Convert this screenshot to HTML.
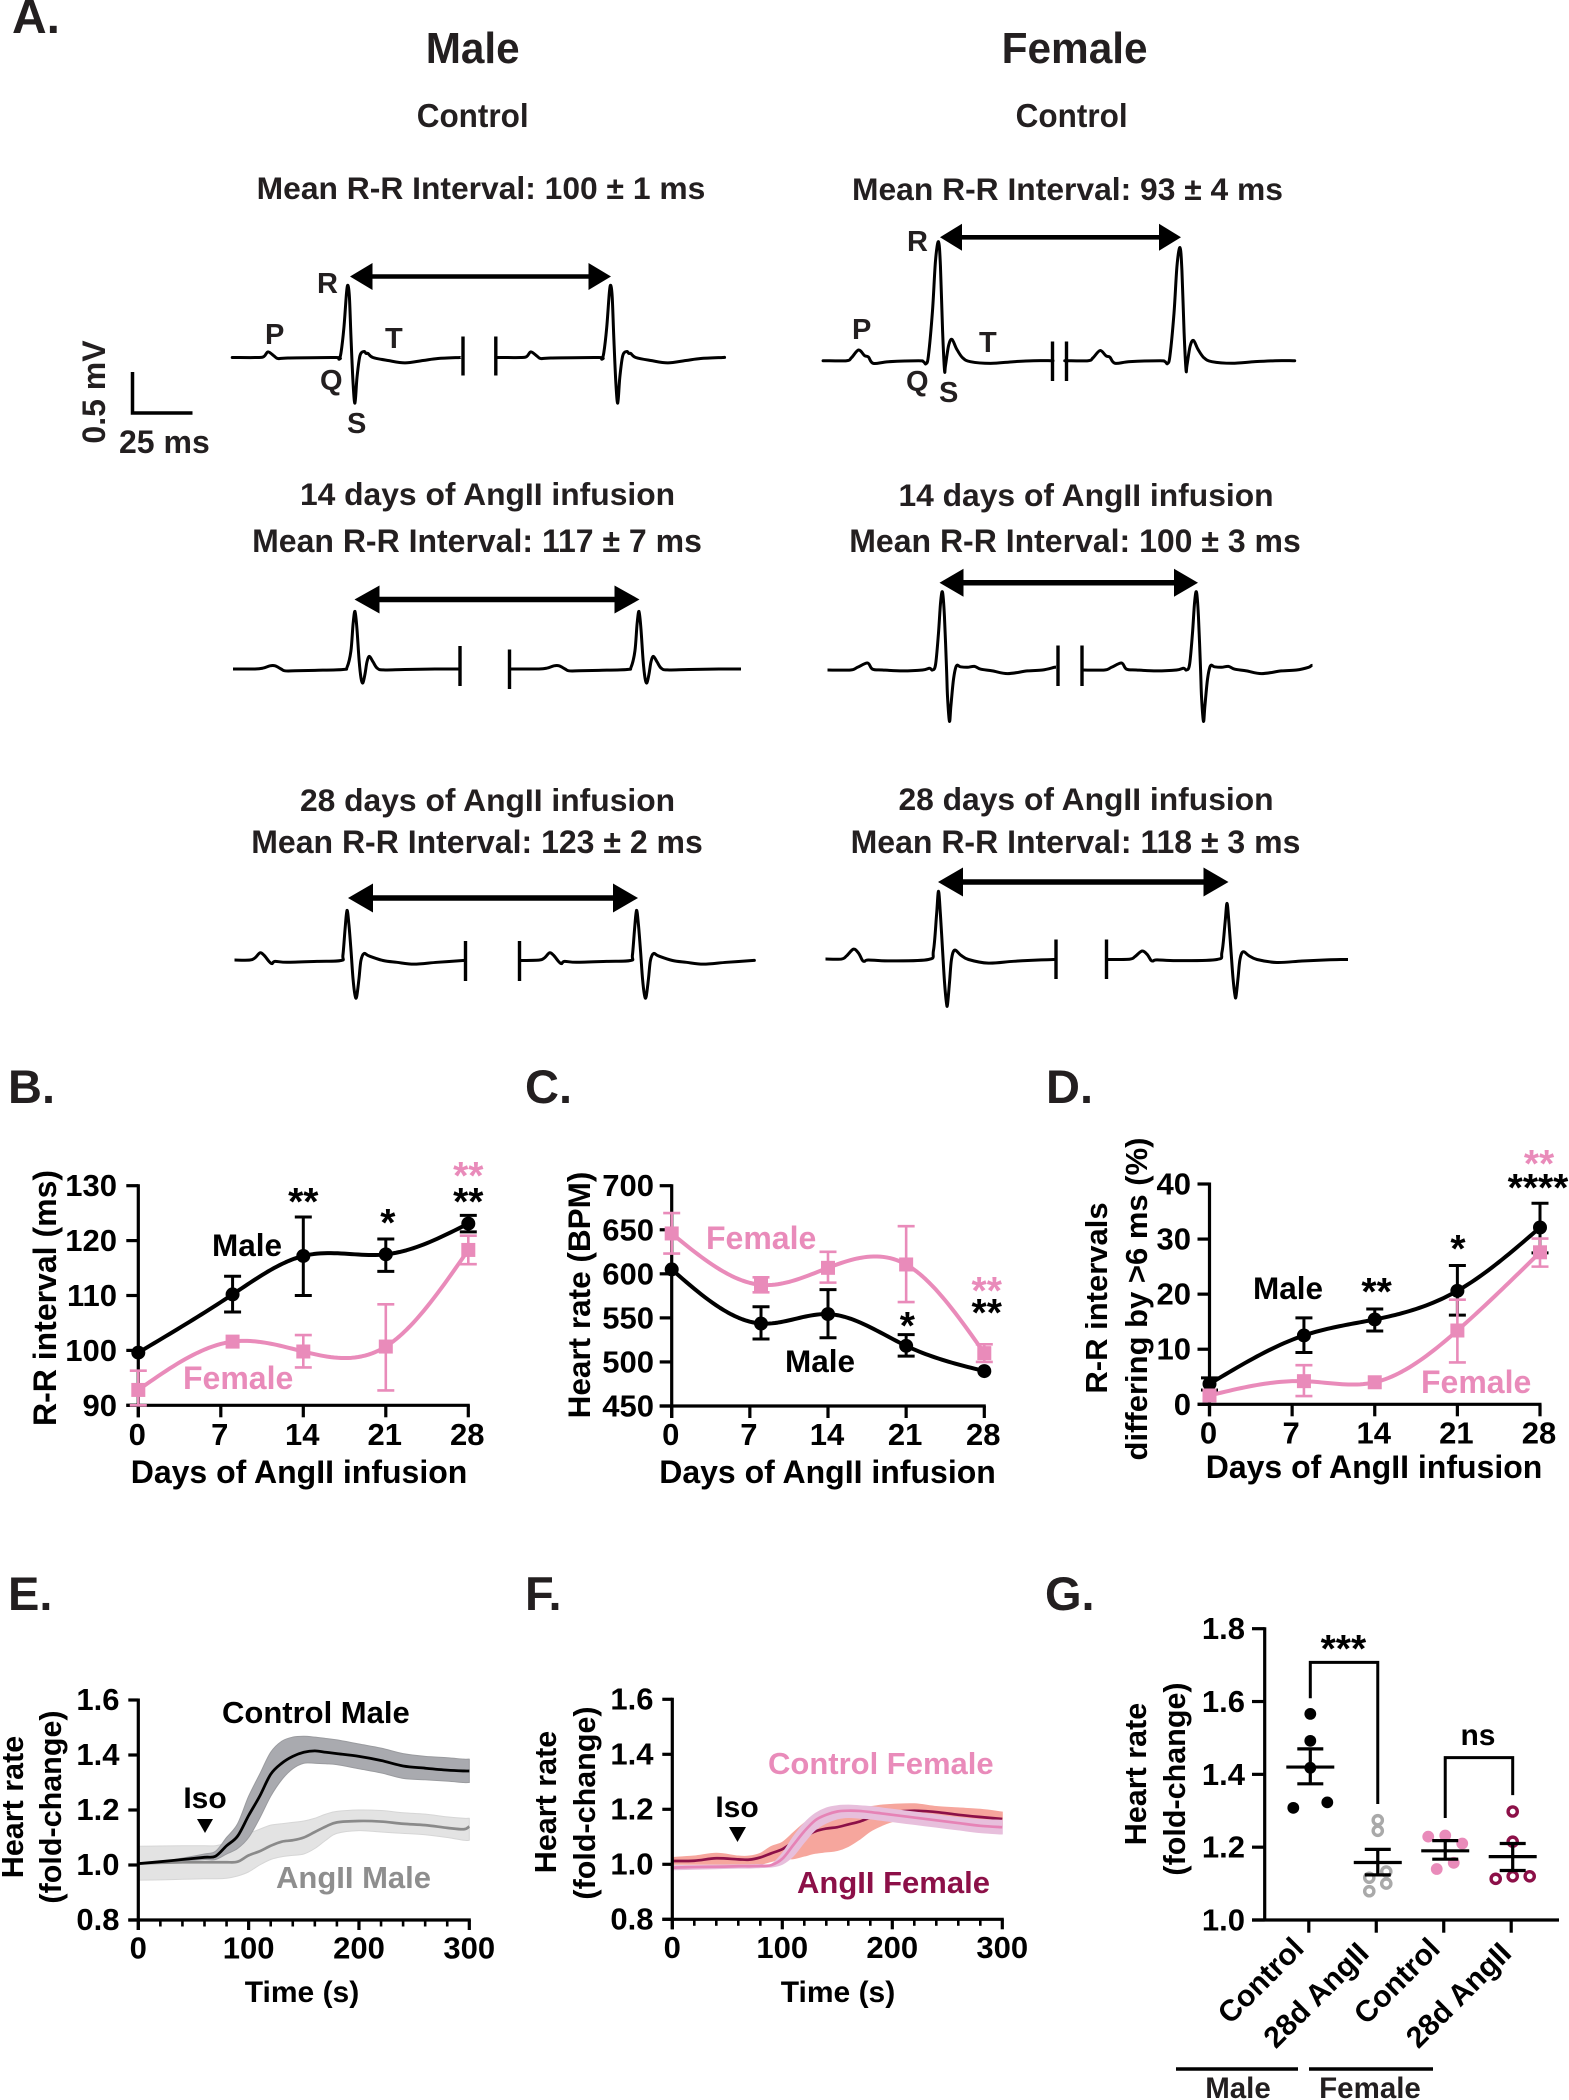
<!DOCTYPE html>
<html lang="en">
<head>
<meta charset="utf-8">
<title>ECG and heart rate panels</title>
<style>
html,body{margin:0;padding:0;background:#fff;}
svg{display:block;}
text{font-family:"Liberation Sans",Arial,sans-serif;font-weight:bold;}
.t{fill:#231f20;}
.mid{text-anchor:middle;}
</style>
</head>
<body>
<svg id="figure" xmlns="http://www.w3.org/2000/svg" width="1569" height="2100" viewBox="0 0 1569 2100">
<rect x="0" y="0" width="1569" height="2100" fill="#ffffff"/>

<!-- Panel letters -->
<text class="t" x="12" y="33" font-size="48">A.</text>
<text class="t" x="8" y="1103" font-size="47">B.</text>
<text class="t" x="525" y="1103" font-size="47">C.</text>
<text class="t" x="1046" y="1103" font-size="47">D.</text>
<text class="t" x="8" y="1610" font-size="47">E.</text>
<text class="t" x="525" y="1610" font-size="47">F.</text>
<text class="t" x="1045" y="1610" font-size="47">G.</text>

<!-- Panel A text -->
<text class="t mid" x="472.7" y="63" font-size="44" textLength="94" lengthAdjust="spacingAndGlyphs">Male</text>
<text class="t mid" x="1074.6" y="63" font-size="44" textLength="146" lengthAdjust="spacingAndGlyphs">Female</text>
<text class="t mid" x="472.7" y="127" font-size="33" textLength="112" lengthAdjust="spacingAndGlyphs">Control</text>
<text class="t mid" x="1071.6" y="127" font-size="33" textLength="112" lengthAdjust="spacingAndGlyphs">Control</text>
<text class="t mid" x="481" y="199" font-size="31.8">Mean R-R Interval: 100 ± 1 ms</text>
<text class="t mid" x="1067.5" y="200" font-size="31.8">Mean R-R Interval: 93 ± 4 ms</text>
<text class="t mid" x="487.5" y="505" font-size="31.8">14 days of AngII infusion</text>
<text class="t mid" x="477" y="552" font-size="32">Mean R-R Interval: 117 ± 7 ms</text>
<text class="t mid" x="487.5" y="811" font-size="31.8">28 days of AngII infusion</text>
<text class="t mid" x="477" y="853" font-size="32">Mean R-R Interval: 123 ± 2 ms</text>
<text class="t mid" x="1086" y="506" font-size="31.8">14 days of AngII infusion</text>
<text class="t mid" x="1075" y="552" font-size="32">Mean R-R Interval: 100 ± 3 ms</text>
<text class="t mid" x="1086" y="810" font-size="31.8">28 days of AngII infusion</text>
<text class="t mid" x="1075.5" y="853" font-size="32">Mean R-R Interval: 118 ± 3 ms</text>

<!-- ECG wave letters -->
<text class="t" x="317" y="293" font-size="29">R</text>
<text class="t" x="265" y="344" font-size="29">P</text>
<text class="t" x="385" y="348" font-size="29">T</text>
<text class="t" x="320" y="390" font-size="29">Q</text>
<text class="t" x="347" y="433" font-size="29">S</text>
<text class="t" x="907" y="251" font-size="29">R</text>
<text class="t" x="852" y="339" font-size="29">P</text>
<text class="t" x="979" y="352" font-size="29">T</text>
<text class="t" x="906" y="391" font-size="29">Q</text>
<text class="t" x="939" y="402" font-size="29">S</text>

<!-- ECG scale bar -->
<path d="M132.5 372 V413 H192.5" fill="none" stroke="#000" stroke-width="3.5"/>
<text class="t mid" transform="translate(105 392) rotate(-90)" font-size="32">0.5 mV</text>
<text class="t" x="119" y="453" font-size="32">25 ms</text>

<!-- Panel B text -->
<text class="mid" transform="translate(56 1298) rotate(-90)" font-size="32">R-R interval (ms)</text>
<text class="mid" x="299" y="1483" font-size="32">Days of AngII infusion</text>

<!-- Panel C text -->
<text class="mid" transform="translate(590 1295) rotate(-90)" font-size="31.5">Heart rate (BPM)</text>
<text class="mid" x="827.5" y="1483" font-size="32">Days of AngII infusion</text>

<!-- Panel D text -->
<text class="mid" transform="translate(1107 1298) rotate(-90)" font-size="31">R-R intervals</text>
<text class="mid" transform="translate(1147 1299) rotate(-90)" font-size="31">differing by &gt;6 ms (%)</text>
<text class="mid" x="1374" y="1478" font-size="32">Days of AngII infusion</text>

<!-- Panel E text -->
<text class="mid" transform="translate(23 1807) rotate(-90)" font-size="30.5">Heart rate</text>
<text class="mid" transform="translate(61 1807) rotate(-90)" font-size="30.5">(fold-change)</text>
<text class="mid" x="302" y="2002" font-size="30">Time (s)</text>

<!-- Panel F text -->
<text class="mid" transform="translate(556 1802) rotate(-90)" font-size="30.5">Heart rate</text>
<text class="mid" transform="translate(595 1803) rotate(-90)" font-size="30.5">(fold-change)</text>
<text class="mid" x="838" y="2002" font-size="30">Time (s)</text>

<!-- Panel G text -->
<text class="mid" transform="translate(1146 1774) rotate(-90)" font-size="30.5">Heart rate</text>
<text class="mid" transform="translate(1185 1779) rotate(-90)" font-size="30.5">(fold-change)</text>
<line x1="1176" x2="1298" y1="2069" y2="2069" stroke="#000" stroke-width="3.5"/>
<line x1="1309" x2="1433" y1="2069" y2="2069" stroke="#000" stroke-width="3.5"/>
<text class="t mid" x="1238" y="2098" font-size="29.5">Male</text>
<text class="t mid" x="1370" y="2098" font-size="29.5">Female</text>

<g id="plots"></g>

<!-- In-plot labels, drawn above the marks -->
<text x="212" y="1256" font-size="31.5" fill="#000">Male</text>
<text x="183" y="1389" font-size="32" fill="#e98bba">Female</text>
<text x="706" y="1249" font-size="32" fill="#e98bba">Female</text>
<text x="785" y="1372" font-size="31.5" fill="#000">Male</text>
<text x="1253" y="1299" font-size="31.5" fill="#000">Male</text>
<text x="1421" y="1393" font-size="32" fill="#e98bba">Female</text>
<text x="222" y="1723" font-size="31" fill="#000">Control Male</text>
<text x="276" y="1888" font-size="31" fill="#8e8e8e">AngII Male</text>
<text class="mid" x="205" y="1808" font-size="30" fill="#000">Iso</text>
<polygon points="197,1819 213,1819 205,1833" fill="#000"/>
<text x="768" y="1774" font-size="31" fill="#e98bba">Control Female</text>
<text x="797" y="1893" font-size="31" fill="#8c1048">AngII Female</text>
<text class="mid" x="737" y="1817" font-size="30" fill="#000">Iso</text>
<polygon points="729,1827 746,1827 737.5,1842" fill="#000"/>
</svg>

<script>
// ---------- Panel A: ECG beats (time from R peak in ms, amplitude in mV) ----------
const ecgMaleControlMs = [-47.5,-37.5,-35,-33.3,-30.8,-29.2,-25,-5,-3.8,-2.9,-1.7,-0.6,0,0.6,1.25,2.1,2.9,3.75,5,6.7,7.5,8.3,10.4,16.7,23.75,31.25,37.5,46.7];
const ecgMaleControlMv = [0,0,.012,.067,.018,-.012,-.006,0,-.018,.06,.357,.774,.857,.714,.238,-.298,-.543,-.238,.024,.071,.048,.048,0,-.036,-.064,-.036,-.012,0];
const ecgMale14Ms = [-51.25,-41.7,-38.3,-35.4,-33.3,-30.8,-29.2,-25,-16.7,-5,-3.3,-1.7,-.8,0,.8,1.7,2.5,3.3,4.2,5,6,7.5,9.2,11.7,20.8,33.3,42.9];
const ecgMale14Mv = [0,0,.012,.042,.042,0,-.024,-.024,-.018,-.006,.024,.238,.595,.762,.536,.119,-.119,-.183,-.06,.095,.167,.095,.012,-.012,-.006,0,0];
const ecgMale28Ms = [-47.5,-40.4,-38.3,-36.25,-34.6,-32.5,-31.25,-30,-25,-12.5,-2.5,-1.7,-.8,0,.8,1.7,2.5,3.3,4,5,5.8,7.1,9.2,15,20.8,27.9,37.5,48.3];
const ecgMale28Mv = [0,.006,.036,.101,.071,-.012,-.042,-.012,-.024,-.012,0,.071,.417,.663,.476,.119,-.238,-.452,-.482,-.238,0,.092,.06,0,-.024,-.048,-.024,0];
const ecgFemaleControlMs = [-47.3,-38.3,-36.25,-33.3,-30.8,-29.2,-27.1,-20.8,-8.3,-6.25,-5.2,-4.2,-2.5,-1.25,0,.8,1.7,2.5,2.9,4.2,5.6,7.5,10,13.3,21.7,31.25,39.6,47.1];
const ecgFemaleControlMv = [0,0,.036,.127,.06,.044,-.032,-.012,0,-.012,-.036,.06,.595,1.19,1.417,1.131,.357,-.111,-.06,.179,.254,.143,.036,-.012,-.032,-.012,0,0];
const ecgFemale14Ms = [-48.3,-38.3,-35.4,-31.25,-29.2,-25,-16.7,-8.3,-5.4,-4.2,-2.9,-1.7,-.8,0,.8,1.7,2.1,2.9,3.5,4.6,5.8,7.5,10.4,13.3,15.8,20.8,27.1,35.4,41.7,46.7,47.9];
const ecgFemale14Mv = [0,0,.036,.092,.012,0,-.012,0,.024,0,.071,.476,.893,1.03,.714,0,-.357,-.679,-.476,-.119,.055,.042,.036,.048,.012,-.012,-.048,-.012,0,.036,.06];
const ecgFemale28Ms = [-47.9,-40.4,-38.3,-35.4,-33.3,-31.7,-30.8,-29.2,-20.8,-4.2,-2.1,-.8,0,.8,1.7,2.5,3.3,3.75,4.6,5.4,6.7,9.2,12.5,20.8,31.25,41.7,47.9];
const ecgFemale28Mv = [0,.006,.048,.137,.083,-.012,-.024,-.006,-.018,0,.119,.595,.902,.595,.119,-.298,-.571,-.595,-.298,0,.124,.06,0,-.048,-.024,-.006,0];

// ---------- Panels B, C, D: values ----------
const dayTickLabels = ['0','7','14','21','28'];
const sampleDays = [0,8,14,21,28];

const bYTickLabels = ['90','100','110','120','130'];
const bMale = [99.6,110.2,117.2,117.5,123.1];
const bMaleHi = [99.6,113.5,124.3,120.3,124.6];
const bMaleLo = [99.6,107,110,114.4,121.6];
const bFemale = [92.8,101.6,99.8,100.7,118.3];
const bFemaleHi = [96.3,101.6,102.8,108.4,120.9];
const bFemaleLo = [90,101.6,96.9,92.7,115.7];

const cYTickLabels = ['450','500','550','600','650','700'];
const cMale = [605,543.6,554.3,518.3,489.6];
const cMaleHi = [605,562.6,582,531,489.6];
const cMaleLo = [605,526,527.4,506.6,489.6];
const cFemale = [645.8,587.5,606.8,610.6,510];
const cFemaleHi = [669,596,625,654,520];
const cFemaleLo = [623,579,590,568,500];

const dYTickLabels = ['0','10','20','30','40'];
const dMale = [3.7,12.5,15.4,20.6,32.1];
const dMaleHi = [4.8,15.7,17.3,25.2,36.5];
const dMaleLo = [2.6,9.4,13.3,16.2,27.5];
const dFemale = [1.6,4.2,4,13.4,27.6];
const dFemaleHi = [1.6,7.1,4,19,30.1];
const dFemaleLo = [1.6,1.5,4,7.6,25];

// ---------- Panels E, F: time courses ----------
const timeTickLabels = ['0','100','200','300'];
const timeMinorTicks = [20,40,60,80,120,140,160,180,220,240,260,280];
const foldTickLabels = ['0.8','1.0','1.2','1.4','1.6'];

const eTime = [0,20,40,60,70,80,90,100,110,120,130,140,150,160,170,180,200,220,240,260,280,295,300];
const eControl = [1.005,1.012,1.02,1.028,1.032,1.07,1.105,1.18,1.25,1.33,1.37,1.395,1.41,1.415,1.41,1.405,1.395,1.38,1.36,1.352,1.345,1.342,1.342];
const eControlHi = [1.005,1.012,1.025,1.04,1.05,1.10,1.15,1.25,1.33,1.41,1.45,1.465,1.468,1.465,1.46,1.455,1.44,1.425,1.405,1.395,1.39,1.385,1.385];
const eControlLo = [1.005,1.012,1.015,1.02,1.02,1.04,1.06,1.10,1.17,1.25,1.31,1.35,1.37,1.37,1.368,1.365,1.35,1.335,1.315,1.31,1.305,1.30,1.30];
const eAngii = [1.005,1.008,1.01,1.01,1.01,1.01,1.012,1.035,1.05,1.07,1.085,1.09,1.10,1.12,1.14,1.155,1.16,1.158,1.15,1.145,1.135,1.13,1.14];
const eAngiiHi = [1.068,1.069,1.07,1.07,1.07,1.08,1.10,1.115,1.13,1.145,1.15,1.155,1.16,1.17,1.185,1.195,1.20,1.198,1.19,1.185,1.175,1.17,1.17];
const eAngiiLo = [.945,.946,.948,.95,.95,.952,.96,.975,1.0,1.02,1.03,1.035,1.04,1.06,1.09,1.115,1.125,1.12,1.115,1.11,1.10,1.09,1.09];

const fTime = [0,20,40,60,70,80,90,100,110,120,130,140,150,160,170,180,190,200,220,240,260,280,300];
const fAngii = [1.012,1.013,1.022,1.018,1.017,1.025,1.04,1.055,1.08,1.10,1.12,1.13,1.135,1.145,1.155,1.17,1.18,1.19,1.195,1.19,1.18,1.172,1.165];
const fAngiiHi = [1.025,1.03,1.04,1.03,1.03,1.04,1.065,1.08,1.115,1.15,1.175,1.19,1.20,1.205,1.208,1.21,1.215,1.218,1.22,1.21,1.205,1.20,1.19];
const fAngiiLo = [1.0,1.0,1.0,1.0,1.0,1.0,1.01,1.02,1.02,1.03,1.04,1.045,1.05,1.065,1.09,1.12,1.14,1.155,1.17,1.175,1.16,1.15,1.14];
const fControl = [.988,.99,.991,.993,.993,.994,.997,1.02,1.07,1.12,1.16,1.18,1.192,1.195,1.194,1.19,1.185,1.18,1.17,1.16,1.15,1.14,1.135];
const fControlHi = [.995,.996,.997,.998,.998,.999,1.0,1.04,1.10,1.15,1.185,1.205,1.213,1.215,1.213,1.21,1.205,1.20,1.19,1.18,1.17,1.163,1.16];
const fControlLo = [.98,.982,.984,.986,.986,.988,.99,1.0,1.03,1.08,1.125,1.15,1.165,1.17,1.168,1.165,1.16,1.155,1.145,1.135,1.125,1.115,1.11];

// ---------- Panel G: individual animals ----------
const gCategories = ['Control','28d AngII','Control','28d AngII'];
const gYTickLabels = ['1.0','1.2','1.4','1.6','1.8'];
const gMaleControl = [1.566,1.492,1.418,1.308,1.323];
const gMaleControlJitter = [0,0,0,-1,1];
const gMaleAngii = [1.274,1.245,1.133,1.116,1.10,1.079];
const gMaleAngiiJitter = [0,0,.5,-.5,.5,-.5];
const gFemaleControl = [1.229,1.232,1.21,1.157,1.14];
const gFemaleControlJitter = [-1,0,1,.5,-.5];
const gFemaleAngii = [1.298,1.215,1.12,1.113,1.12];
const gFemaleAngiiJitter = [0,0,0,-1,1];
const gMeans = [1.42,1.158,1.19,1.174];
const gErrHi = [1.47,1.194,1.218,1.21];
const gErrLo = [1.374,1.124,1.167,1.136];

// ---------- Helpers ----------
const NS = 'http://www.w3.org/2000/svg';
const plots = document.getElementById('plots');
const PINK = '#e98bba';

function mk(tag, attrs, parent) {
  const el = document.createElementNS(NS, tag);
  for (const k in attrs) el.setAttribute(k, attrs[k]);
  (parent || plots).appendChild(el);
  return el;
}
function linear(d0, d1, r0, r1) {
  return function (v) { return r0 + (v - d0) * (r1 - r0) / (d1 - d0); };
}
function group(name) {
  const g = mk('g', {}, plots);
  
  
  return g;
}
function seg(g, x1, y1, x2, y2, color, w, name) {
  const l = mk('line', {x1: x1, y1: y1, x2: x2, y2: y2, stroke: color, 'stroke-width': w}, g);
  
  
  return l;
}
function label(g, str, x, y, size, anchor, name) {
  const t = mk('text', {x: x, y: y, 'font-size': size, 'text-anchor': anchor, fill: '#000'}, g);
  t.textContent = str;
  
  
  return t;
}
// Natural cubic spline through the means, sampled for a smooth path
function splinePath(xs, ys, sx, sy) {
  const n = xs.length, h = [], al = [0], l = [1], mu = [0], z = [0], c = new Array(n).fill(0), b = [], d = [];
  for (let i = 0; i < n - 1; i++) h.push(xs[i + 1] - xs[i]);
  for (let i = 1; i < n - 1; i++) al.push(3 / h[i] * (ys[i + 1] - ys[i]) - 3 / h[i - 1] * (ys[i] - ys[i - 1]));
  for (let i = 1; i < n - 1; i++) {
    l[i] = 2 * (xs[i + 1] - xs[i - 1]) - h[i - 1] * mu[i - 1];
    mu[i] = h[i] / l[i];
    z[i] = (al[i] - h[i - 1] * z[i - 1]) / l[i];
  }
  for (let j = n - 2; j >= 0; j--) {
    c[j] = z[j] - mu[j] * c[j + 1];
    b[j] = (ys[j + 1] - ys[j]) / h[j] - h[j] * (c[j + 1] + 2 * c[j]) / 3;
    d[j] = (c[j + 1] - c[j]) / (3 * h[j]);
  }
  let p = '';
  for (let j = 0; j < n - 1; j++) {
    for (let s = 0; s <= 24; s++) {
      const dx = h[j] * s / 24;
      const y = ys[j] + b[j] * dx + c[j] * dx * dx + d[j] * dx * dx * dx;
      p += (p ? 'L' : 'M') + sx(xs[j] + dx).toFixed(2) + ' ' + sy(y).toFixed(2);
    }
  }
  return p;
}
// Catmull-Rom smoothing through screen points; returns path commands without the initial move
function smoothSegments(pts) {
  let d = '';
  for (let i = 0; i < pts.length - 1; i++) {
    const p0 = pts[Math.max(i - 1, 0)], p1 = pts[i], p2 = pts[i + 1], p3 = pts[Math.min(i + 2, pts.length - 1)];
    const c1x = p1[0] + (p2[0] - p0[0]) / 6, c1y = p1[1] + (p2[1] - p0[1]) / 6;
    const c2x = p2[0] - (p3[0] - p1[0]) / 6, c2y = p2[1] - (p3[1] - p1[1]) / 6;
    d += 'C' + c1x.toFixed(2) + ' ' + c1y.toFixed(2) + ' ' + c2x.toFixed(2) + ' ' + c2y.toFixed(2) + ' ' + p2[0].toFixed(2) + ' ' + p2[1].toFixed(2);
  }
  return d;
}

// ---------- ECG drawing ----------
const ecgPxPerMs = 2.4;
const ecgPxPerMv = 84;
function drawBeat(g, ms, mv, rX, base, gain, fromX, toX) {
  const pts = [];
  for (let i = 0; i < ms.length; i++) {
    const x = rX + ms[i] * ecgPxPerMs;
    if (x >= fromX && x <= toX) pts.push([x, base - mv[i] * gain * ecgPxPerMv]);
  }
  pts.unshift([fromX, pts[0][1]]);
  pts.push([toX, pts[pts.length - 1][1]]);
  const line = mk('path', {d: 'M' + pts[0][0].toFixed(2) + ' ' + pts[0][1].toFixed(2) + smoothSegments(pts),
    fill: 'none', stroke: '#000', 'stroke-width': 3, 'stroke-linejoin': 'round'}, g);
  
  
}
function drawBreak(g, x, y1, y2) {
  const l = seg(g, x, y1, x, y2, '#000', 3.4, 'ecg-axis-break');
  return l;
}
function drawArrow(g, x1, x2, y, head, half, thick) {
  seg(g, x1 + head - 1, y, x2 - head + 1, y, '#000', thick, 'rr-arrow-shaft');
  const a = mk('polygon', {points: x1 + ',' + y + ' ' + (x1 + head) + ',' + (y - half) + ' ' + (x1 + head) + ',' + (y + half), fill: '#000'}, g);
  
  
  const b = mk('polygon', {points: x2 + ',' + y + ' ' + (x2 - head) + ',' + (y - half) + ' ' + (x2 - head) + ',' + (y + half), fill: '#000'}, g);
  
  
}

(function () {
  let g = group('ecg-male-control');
  drawBeat(g, ecgMaleControlMs, ecgMaleControlMv, 348, 357.5, 1, 234, 460.5);
  drawBeat(g, ecgMaleControlMs, ecgMaleControlMv, 610.8, 357.5, 1, 497.5, 723);
  drawBreak(g, 463, 336.5, 375.5); drawBreak(g, 495.8, 336.5, 375.5);
  drawArrow(g, 350, 611, 276.5, 22.5, 13.5, 4.6);

  g = group('ecg-female-control');
  drawBeat(g, ecgFemaleControlMs, ecgFemaleControlMv, 938.5, 360.7, 1, 824, 1052);
  drawBeat(g, ecgFemaleControlMs, ecgFemaleControlMv, 1180, 360.7, .95, 1066, 1294);
  drawBreak(g, 1052.5, 341.5, 381); drawBreak(g, 1066.5, 341.5, 381);
  drawArrow(g, 940, 1181, 237.3, 22, 13.5, 4.6);

  g = group('ecg-male-14-days');
  drawBeat(g, ecgMale14Ms, ecgMale14Mv, 355, 669, .9, 233, 458);
  drawBeat(g, ecgMale14Ms, ecgMale14Mv, 639, 669, .9, 510.5, 741);
  drawBreak(g, 460, 646, 686); drawBreak(g, 509.5, 649.5, 689);
  drawArrow(g, 354.5, 639.5, 599.5, 25, 14, 5.5);

  g = group('ecg-male-28-days');
  drawBeat(g, ecgMale28Ms, ecgMale28Mv, 347, 960.5, .9, 234.5, 464);
  drawBeat(g, ecgMale28Ms, ecgMale28Mv, 636.5, 960.5, .9, 520, 752.5);
  drawBreak(g, 465.5, 941, 981); drawBreak(g, 519.5, 941, 981);
  drawArrow(g, 348, 638, 898, 25, 14.5, 5.5);

  g = group('ecg-female-14-days');
  drawBeat(g, ecgFemale14Ms, ecgFemale14Mv, 942.5, 670, .9, 827.5, 1056);
  drawBeat(g, ecgFemale14Ms, ecgFemale14Mv, 1196.5, 670, .9, 1083, 1312.5);
  drawBreak(g, 1058, 645.5, 686); drawBreak(g, 1082, 645.5, 686);
  drawArrow(g, 939.5, 1198, 582.8, 24, 14, 5.5);

  g = group('ecg-female-28-days');
  drawBeat(g, ecgFemale28Ms, ecgFemale28Mv, 938.5, 959.5, .9, 825.5, 1055);
  drawBeat(g, ecgFemale28Ms, ecgFemale28Mv, 1227, 959.5, .74, 1107, 1348);
  drawBreak(g, 1056, 939.5, 979); drawBreak(g, 1106.5, 939.5, 979);
  drawArrow(g, 938, 1228.5, 882, 25, 14.5, 5.5);
})();

// ---------- Axes ----------
function drawDayAxes(name, sx, sy, yLabels, xLabels, yLabelX, xLabelY, tickLen) {
  const g = group(name + '-axes');
  const yVals = yLabels.map(Number), xVals = xLabels.map(Number);
  const yMin = Math.min.apply(null, yVals), yMax = Math.max.apply(null, yVals);
  const xMin = Math.min.apply(null, xVals), xMax = Math.max.apply(null, xVals);
  seg(g, sx(xMin), sy(yMax) - 1.5, sx(xMin), sy(yMin) + tickLen, '#000', 3.2, name + '-y-axis');
  seg(g, sx(xMin) - tickLen, sy(yMin), sx(xMax) + 1.5, sy(yMin), '#000', 3.2, name + '-x-axis');
  yLabels.forEach(function (lab) {
    const v = Number(lab);
    seg(g, sx(xMin) - tickLen, sy(v), sx(xMin), sy(v), '#000', 3.2, name + '-y-tick');
    label(g, lab, yLabelX, sy(v) + 10.5, 31, 'end', name + '-y-tick-label');
  });
  xLabels.forEach(function (lab) {
    const v = Number(lab);
    seg(g, sx(v), sy(yMin), sx(v), sy(yMin) + tickLen, '#000', 3.2, name + '-x-tick');
    label(g, lab, sx(v) - 1, xLabelY, 31, 'middle', name + '-x-tick-label');
  });
}

function drawSeries(name, sx, sy, days, means, hi, lo, color, square) {
  const g = group(name);
  const cap = 8.5;
  const errW = color === PINK ? 2.6 : 3;
  days.forEach(function (d, i) {
    const x = sx(d);
    if (hi[i] !== means[i]) {
      seg(g, x, sy(hi[i]), x, sy(means[i]), color, errW, name + '-error-bar-upper');
      seg(g, x - cap, sy(hi[i]), x + cap, sy(hi[i]), color, errW, name + '-error-cap');
    }
    if (lo[i] !== means[i]) {
      seg(g, x, sy(means[i]), x, sy(lo[i]), color, errW, name + '-error-bar-lower');
      seg(g, x - cap, sy(lo[i]), x + cap, sy(lo[i]), color, errW, name + '-error-cap');
    }
  });
  const p = mk('path', {d: splinePath(days, means, sx, sy), fill: 'none', stroke: color, 'stroke-width': 4, 'stroke-linejoin': 'round'}, g);
  
  
  days.forEach(function (d, i) {
    let m;
    if (square) {
      m = mk('rect', {x: sx(d) - 7, y: sy(means[i]) - 7, width: 14, height: 14, fill: color}, g);
    } else {
      m = mk('circle', {cx: sx(d), cy: sy(means[i]), r: 7, fill: color}, g);
    }
    
    
  });
}

function stars(str, x, centerY, color, name) {
  const t = mk('text', {x: x, y: centerY + 18, 'font-size': 39, 'text-anchor': 'middle', fill: color});
  t.textContent = str;
  
  
}

// Panel B
(function () {
  const sx = linear(0, 28, 138.3, 468.3), sy = linear(90, 130, 1405.3, 1185.7);
  drawDayAxes('b', sx, sy, bYTickLabels, dayTickLabels, 117, 1445, 12);
  drawSeries('b-male', sx, sy, sampleDays, bMale, bMaleHi, bMaleLo, '#000', false);
  drawSeries('b-female', sx, sy, sampleDays, bFemale, bFemaleHi, bFemaleLo, PINK, true);
  stars('**', sx(14), 1197, '#000', 'b-significance-day-14');
  stars('*', sx(21) + 2, 1218, '#000', 'b-significance-day-21');
  stars('**', sx(28), 1197, '#000', 'b-significance-day-28-male');
  stars('**', sx(28), 1171, PINK, 'b-significance-day-28-female');
})();

// Panel C
(function () {
  const sx = linear(0, 28, 671.7, 984.3), sy = linear(450, 700, 1406, 1185.7);
  drawDayAxes('c', sx, sy, cYTickLabels, dayTickLabels, 654, 1445, 12);
  drawSeries('c-male', sx, sy, sampleDays, cMale, cMaleHi, cMaleLo, '#000', false);
  drawSeries('c-female', sx, sy, sampleDays, cFemale, cFemaleHi, cFemaleLo, PINK, true);
  stars('**', 986.7, 1286, PINK, 'c-significance-day-28-female');
  stars('**', 986.7, 1308, '#000', 'c-significance-day-28-male');
  stars('*', 907.3, 1321, '#000', 'c-significance-day-21');
})();

// Panel D
(function () {
  const sx = linear(0, 28, 1209.5, 1540), sy = linear(0, 40, 1404.3, 1184);
  drawDayAxes('d', sx, sy, dYTickLabels, dayTickLabels, 1191, 1443.5, 12);
  drawSeries('d-male', sx, sy, sampleDays, dMale, dMaleHi, dMaleLo, '#000', false);
  drawSeries('d-female', sx, sy, sampleDays, dFemale, dFemaleHi, dFemaleLo, PINK, true);
  stars('**', 1539, 1159, PINK, 'd-significance-day-28-female');
  stars('****', 1538, 1183, '#000', 'd-significance-day-28-male');
  stars('*', 1458, 1244, '#000', 'd-significance-day-21');
  stars('**', 1376.6, 1287, '#000', 'd-significance-day-14');
})();

// Panels E, F
function drawTimeAxes(name, sx, sy, labelEndX) {
  const g = group(name + '-axes');
  seg(g, sx(0), sy(1.6) - 1.5, sx(0), sy(0.8) + 10, '#000', 3.2, name + '-y-axis');
  seg(g, sx(0) - 10, sy(0.8), sx(300) + 1.5, sy(0.8), '#000', 3.2, name + '-x-axis');
  foldTickLabels.forEach(function (lab) {
    const v = Number(lab);
    seg(g, sx(0) - 10, sy(v), sx(0), sy(v), '#000', 3.2, name + '-y-tick');
    label(g, lab, labelEndX, sy(v) + 10, 31, 'end', name + '-y-tick-label');
  });
  timeTickLabels.forEach(function (lab) {
    const v = Number(lab);
    seg(g, sx(v), sy(0.8), sx(v), sy(0.8) + 10, '#000', 3.2, name + '-x-tick');
    label(g, lab, sx(v), sy(0.8) + 38.5, 31, 'middle', name + '-x-tick-label');
  });
  timeMinorTicks.forEach(function (v) {
    seg(g, sx(v), sy(0.8), sx(v), sy(0.8) + 6.5, '#000', 2.6, name + '-x-minor-tick');
  });
}
function drawBand(name, sx, sy, t, hi, lo, fill, edge) {
  const upper = t.map(function (v, i) { return [sx(v), sy(hi[i])]; });
  const lower = t.map(function (v, i) { return [sx(v), sy(lo[i])]; }).reverse();
  const d = 'M' + upper[0][0].toFixed(2) + ' ' + upper[0][1].toFixed(2) + smoothSegments(upper) +
    'L' + lower[0][0].toFixed(2) + ' ' + lower[0][1].toFixed(2) + smoothSegments(lower) + 'Z';
  const p = mk('path', {d: d, fill: fill, stroke: edge, 'stroke-width': 1, 'stroke-linejoin': 'round'});
  
  
}
function drawTrace(name, sx, sy, t, vals, color, w) {
  const pts = t.map(function (v, i) { return [sx(v), sy(vals[i])]; });
  const l = mk('path', {d: 'M' + pts[0][0].toFixed(2) + ' ' + pts[0][1].toFixed(2) + smoothSegments(pts), fill: 'none', stroke: color, 'stroke-width': w, 'stroke-linejoin': 'round'});
  
  
}
(function () {
  const sx = linear(0, 300, 138.3, 469.3), sy = linear(0.8, 1.6, 1920, 1700);
  drawBand('e-angii', sx, sy, eTime, eAngiiHi, eAngiiLo, '#e3e3e3', '#d6d6d6');
  drawTrace('e-angii', sx, sy, eTime, eAngii, '#8a8a8a', 2.7);
  drawBand('e-control', sx, sy, eTime, eControlHi, eControlLo, '#a9aaaf', '#9a9b9f');
  drawTrace('e-control', sx, sy, eTime, eControl, '#000', 2.8);
  drawTimeAxes('e', sx, sy, 119.5);
})();
(function () {
  const sx = linear(0, 300, 672.3, 1002.3), sy = linear(0.8, 1.6, 1919.3, 1699.3);
  drawBand('f-angii', sx, sy, fTime, fAngiiHi, fAngiiLo, '#f6a69d', '#f6a69d');
  drawTrace('f-angii', sx, sy, fTime, fAngii, '#8c1048', 2.7);
  drawBand('f-control', sx, sy, fTime, fControlHi, fControlLo, '#e7bfdc', '#e7bfdc');
  drawTrace('f-control', sx, sy, fTime, fControl, '#e683b6', 2.7);
  drawTimeAxes('f', sx, sy, 653.5);
})();

// Panel G
(function () {
  const sy = linear(1.0, 1.8, 1920, 1628.7);
  const catX = linear(0, 3, 1308.8, 1511.2);
  const g = group('g-axes');
  seg(g, 1264.7, sy(1.8) - 1.5, 1264.7, sy(1.0) + 1.5, '#000', 3.2, 'g-y-axis');
  seg(g, 1252, sy(1.0), 1559, sy(1.0), '#000', 3.2, 'g-x-axis');
  gYTickLabels.forEach(function (lab) {
    const v = Number(lab);
    seg(g, 1252, sy(v), 1264.7, sy(v), '#000', 3.2, 'g-y-tick');
    label(g, lab, 1245, sy(v) + 10.5, 31, 'end', 'g-y-tick-label');
  });
  const labelEnds = [[1305.5, 1950], [1370.5, 1955], [1441.7, 1950.5], [1513, 1955]];
  gCategories.forEach(function (c, i) {
    seg(g, catX(i), sy(1.0), catX(i), sy(1.0) + 12.7, '#000', 3.2, 'g-x-tick');
    const t = mk('text', {'font-size': 30, 'text-anchor': 'end', fill: '#000',
      transform: 'translate(' + labelEnds[i][0] + ' ' + labelEnds[i][1] + ') rotate(-45)'}, g);
    t.textContent = c;
    
    
  });

  const jitterUnit = 17;
  function dots(name, i, vals, jitter, fill, stroke) {
    const dg = group(name);
    vals.forEach(function (v, k) {
      const attrs = {cx: catX(i) + 1.5 + jitter[k] * jitterUnit, cy: sy(v)};
      if (stroke) { attrs.r = 4.6; attrs.fill = '#fff'; attrs.stroke = stroke; attrs['stroke-width'] = 3.4; }
      else { attrs.r = 5.9; attrs.fill = fill; }
      const c = mk('circle', attrs, dg);
      
      
    });
  }
  dots('g-male-control', 0, gMaleControl, gMaleControlJitter, '#000', null);
  dots('g-male-angii', 1, gMaleAngii, gMaleAngiiJitter, null, '#a9a9a9');
  dots('g-female-control', 2, gFemaleControl, gFemaleControlJitter, PINK, null);
  dots('g-female-angii', 3, gFemaleAngii, gFemaleAngiiJitter, null, '#8c1048');

  const eg = group('g-summary-bars');
  gMeans.forEach(function (m, i) {
    const x = catX(i) + 1.5;
    seg(eg, x - 24, sy(m), x + 24, sy(m), '#000', 3.2, 'g-mean-line');
    seg(eg, x, sy(gErrHi[i]), x, sy(gErrLo[i]), '#000', 3.2, 'g-error-bar');
    seg(eg, x - 13, sy(gErrHi[i]), x + 13, sy(gErrHi[i]), '#000', 3.2, 'g-error-cap');
    seg(eg, x - 13, sy(gErrLo[i]), x + 13, sy(gErrLo[i]), '#000', 3.2, 'g-error-cap');
  });

  function bracket(name, i, j, top, leftEnd, rightEnd) {
    const b = mk('polyline', {points: (catX(i) + 1.5) + ',' + sy(leftEnd) + ' ' + (catX(i) + 1.5) + ',' + sy(top) + ' ' +
      (catX(j) + 1.5) + ',' + sy(top) + ' ' + (catX(j) + 1.5) + ',' + sy(rightEnd), fill: 'none', stroke: '#000', 'stroke-width': 3});
    
    
  }
  bracket('g-male-comparison-bracket', 0, 1, 1.7075, 1.609, 1.3185);
  bracket('g-female-comparison-bracket', 2, 3, 1.446, 1.28, 1.343);
  stars('***', 1343.4, 1644, '#000', 'g-male-significance');
  const ns = mk('text', {x: 1478, y: 1745, 'font-size': 30, 'text-anchor': 'middle', fill: '#000'});
  ns.textContent = 'ns';
  
  
})();
</script>
</body>
</html>
